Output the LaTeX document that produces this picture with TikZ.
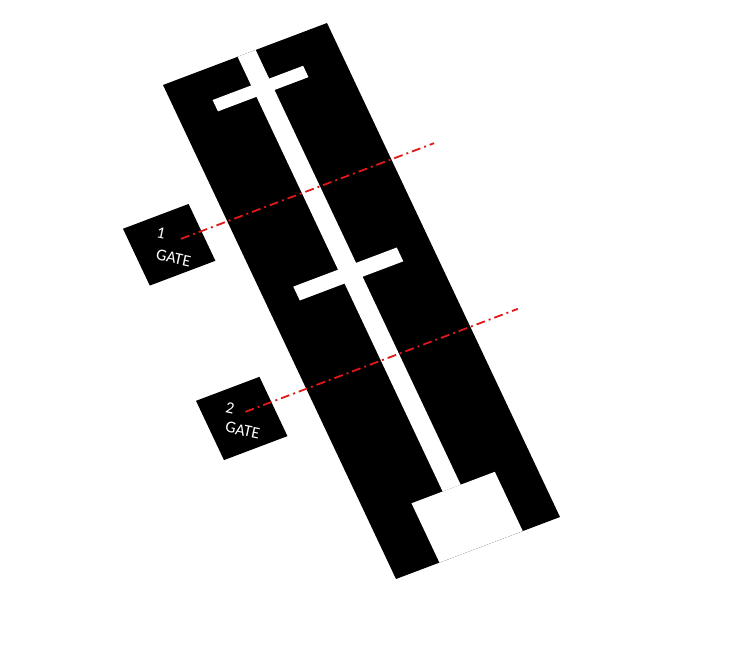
\documentclass[tikz,border=0pt]{standalone}
\usepackage{fontspec}
\setmainfont{Carlito}
\usepackage{tikz}
\definecolor{gatered}{RGB}{226,24,24}

% parallelogram in the tilted frame
\newcommand{\tiltbox}[5]{\fill[#1] (#2,#3) -- (#4,#3) -- (#4,#5) -- (#2,#5) -- cycle;}

\begin{document}
\begin{tikzpicture}[x=1pt,y=1pt,
  gatelabel/.style={text=white, font=\fontsize{16.5}{19}\selectfont, inner sep=0pt, rotate=-12},
  cutline/.style={gatered, line width=1.8pt, dash pattern=on 9pt off 4pt on 2pt off 4pt}]

\useasboundingbox (0,0) rectangle (731,-645);

% tilted frame of the plate
\begin{scope}[shift={(163pt,-85pt)}, x={(164pt,62pt)}, y={(233pt,-494pt)}]

% Plate
\tiltbox{black}{0}{0}{1}{1}

% Centre runner
\tiltbox{white}{0.455}{0}{0.565}{0.88}

% Cross bars
\tiltbox{white}{0.220}{0.058}{0.772}{0.081}
\tiltbox{white}{0.182}{0.431}{0.813}{0.459}

% Bottom block
\tiltbox{white}{0.265}{0.88}{0.773}{1}

% Gate boxes
\tiltbox{black}{-0.558}{0.221}{-0.158}{0.336}
\tiltbox{black}{-0.600}{0.564}{-0.213}{0.684}

% Gate labels
\node[gatelabel] (g1num) at (-0.372,0.254) {1};
\node[gatelabel] (g1txt) at (-0.368,0.304) {GATE};
\node[gatelabel] (g2num) at (-0.440,0.598) {2};
\node[gatelabel] (g2txt) at (-0.431,0.645) {GATE};

% Cut lines
\coordinate (c1a) at (-0.283,0.276);
\coordinate (c1b) at (1.261,0.276);
\coordinate (c2a) at (-0.371,0.615);
\coordinate (c2b) at (1.290,0.615);
\draw[cutline] (c1a) -- (c1b);
\draw[cutline] (c2a) -- (c2b);

\end{scope}

\end{tikzpicture}
\end{document}
